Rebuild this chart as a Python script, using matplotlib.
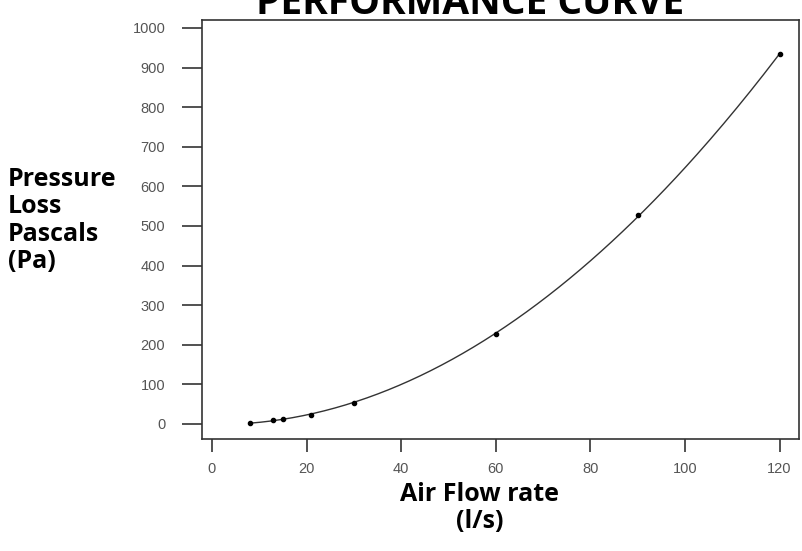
import matplotlib
matplotlib.use("Agg")
import matplotlib.pyplot as plt
import numpy as np

# readings
flow = [8, 13, 15, 21, 30, 60, 90, 120]          # l/s
loss = [3, 11, 12, 22, 53, 228, 527, 933]        # Pa
xticks = [0, 20, 40, 60, 80, 100, 120]
yticks = [0, 100, 200, 300, 400, 500, 600, 700, 800, 900, 1000]

# smooth curve through the points (quadratic fit)
coef = np.polyfit(flow, loss, 2)
xs = np.linspace(min(flow), max(flow), 200)
ys = np.polyval(coef, xs)

fig = plt.figure(figsize=(8.03, 5.51), dpi=100)
ax = fig.add_axes([202/803, 1 - 439/551, (799-202)/803, (439-20)/551])

ax.plot(xs, ys, color='#333333', lw=1.0)
ax.scatter(flow, loss, s=9, color='black', zorder=3)

ax.set_xlim(-2.1, 124.1)
ax.set_ylim(-38, 1020)
ax.set_xticks(xticks)
ax.set_yticks(yticks)
for s in ax.spines.values():
    s.set_color('#333333')
    s.set_linewidth(1.2)
ax.tick_params(axis='y', direction='out', length=14.4, width=1.2, color='#333333',
               pad=12, labelsize=10.5, labelcolor='#555555')
ax.tick_params(axis='x', direction='out', length=9.4, width=1.2, color='#333333',
               pad=7, labelsize=10.5, labelcolor='#555555')
for lab in ax.get_xticklabels() + ax.get_yticklabels():
    lab.set_family('Liberation Sans')

fig.text(470/803, 1 - 14/551, 'PERFORMANCE CURVE', ha='center', va='baseline',
         fontsize=28, fontweight='bold', family='Open Sans')
fig.text(8/803, 1 - 167/551, 'Pressure\nLoss\nPascals\n(Pa)', ha='left', va='top',
         fontsize=18, fontweight='bold', family='Open Sans', linespacing=1.12)
fig.text(480/803, 1 - 482/551, 'Air Flow rate\n(l/s)', ha='center', va='top',
         fontsize=18, fontweight='bold', family='Open Sans', linespacing=1.12,
         multialignment='center')

fig.savefig('out.png', dpi=100)
